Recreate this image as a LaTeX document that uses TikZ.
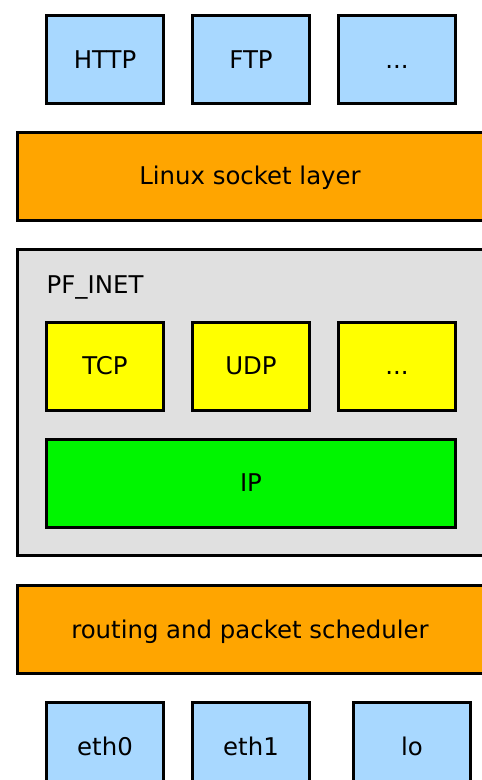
\documentclass[tikz,border=0pt]{standalone}
\usepackage{fontspec}
\setmainfont{DejaVu Sans}
\definecolor{appblue}{RGB}{168,216,255}
\definecolor{layerorange}{RGB}{255,165,0}
\definecolor{inetgray}{RGB}{224,224,224}
\definecolor{protoyellow}{RGB}{255,255,0}
\definecolor{ipgreen}{RGB}{0,245,0}
\begin{document}
\begin{tikzpicture}[x=1pt,y=-1pt,
  box/.style={draw=black,line width=3pt,rectangle,inner sep=0pt,
    minimum width=117pt,minimum height=88pt,
    font=\fontsize{24.4}{29}\selectfont,text height=17.6pt,text depth=0pt},
  appbox/.style={box,fill=appblue},
  widebox/.style={box,fill=layerorange,minimum width=466pt},
  protobox/.style={box,fill=protoyellow},
  ]
\useasboundingbox (0,0) rectangle (482,780);
\clip (0,0) rectangle (482,780);
% applications
\node[appbox] (http) at (105,59.5) {HTTP};
\node[appbox] (ftp) at (251,59.5) {FTP};
\node[appbox] (appdots) at (397,59.5) {...};
% socket layer
\node[widebox] (socket) at (250,176) {Linux socket layer};
% PF_INET
\node[box,fill=inetgray,minimum width=466pt,minimum height=306pt] (pfinet) at (250,402.5) {};
\node[anchor=base west,inner sep=0pt,font=\fontsize{24.4}{29}\selectfont] (pflabel) at (46.5,293.5) {PF\_INET};
\node[protobox] (tcp) at (105,366) {TCP};
\node[protobox] (udp) at (251,366) {UDP};
\node[protobox] (protodots) at (397,366) {...};
\node[box,fill=ipgreen,minimum width=409pt] (ip) at (251,483) {IP};
% routing
\node[widebox] (routing) at (250,629.5) {routing and packet scheduler};
% devices
\node[appbox] (eth0) at (105,746.5) {eth0};
\node[appbox] (eth1) at (251,746.5) {eth1};
\node[appbox] (lo) at (412,746.5) {lo};
\end{tikzpicture}
\end{document}
